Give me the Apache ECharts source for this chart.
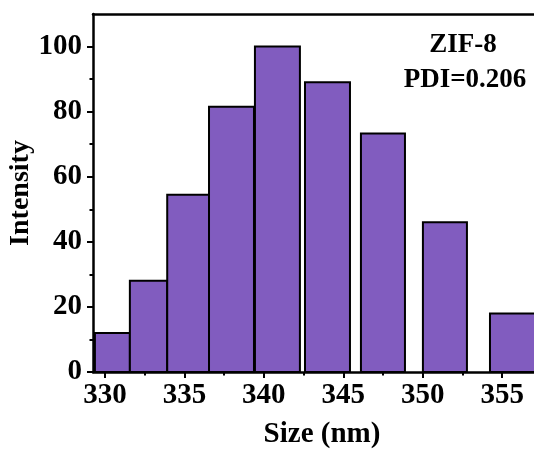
<!DOCTYPE html>
<html>
<head>
<meta charset="utf-8">
<script src="https://cdn.jsdelivr.net/npm/echarts@6/dist/echarts.min.js"></script>
<style>
html,body{margin:0;padding:0;background:#fff;}
#chart{width:534px;height:452px;}
</style>
</head>
<body>
<div id="chart"></div>
<script>
// Bin edges (nm) and intensities
const binStart  = [329.37, 331.57, 333.92, 336.55, 339.44, 342.59, 346.11, 350.01, 354.23];
const binEnd    = [331.57, 333.92, 336.55, 339.38, 342.27, 345.42, 348.88, 352.78, 357.20];
const intensity = [12, 28, 54.5, 81.5, 100, 89, 73.3, 46, 18];

const xMajorTicks = [330, 335, 340, 345, 350, 355];
const xMinorTicks = [332.5, 337.5, 342.5, 347.5, 352.5];
const yMajorTicks = [0, 20, 40, 60, 80, 100];
const yMinorTicks = [10, 30, 50, 70, 90];

const FONT = '"Liberation Serif", "Times New Roman", serif';
const barColor = '#815CBF';

const data = binStart.map((s, i) => [s, binEnd[i], intensity[i]]);

const chart = echarts.init(document.getElementById('chart'), null, {renderer: 'canvas'});

const xMin = 329.25, xMax = 357, yMin = 0, yMax = 110;

const baseX = {type: 'value', min: xMin, max: xMax, splitLine: {show: false}, gridIndex: 0};
const baseY = {type: 'value', min: yMin, max: yMax, splitLine: {show: false}, gridIndex: 0};

chart.setOption({
  animation: false,
  backgroundColor: '#fff',
  grid: {left: 93, right: 0, top: 14, bottom: 80, containLabel: false},
  xAxis: [
    Object.assign({}, baseX, {
      position: 'bottom',
      axisLine: {show: true, lineStyle: {color: '#000', width: 2.5}},
      axisTick: {show: true, inside: false, length: 6, lineStyle: {color: '#000', width: 2}, customValues: xMajorTicks},
      axisLabel: {show: true, customValues: xMajorTicks, margin: 9, color: '#000', fontFamily: FONT, fontWeight: 'bold', fontSize: 29}
    }),
    Object.assign({}, baseX, {
      position: 'bottom',
      axisLine: {show: false},
      axisTick: {show: true, inside: false, length: 3.5, lineStyle: {color: '#000', width: 2}, customValues: xMinorTicks},
      axisLabel: {show: false}
    }),
    Object.assign({}, baseX, {
      position: 'top',
      axisLine: {show: true, lineStyle: {color: '#000', width: 2.5}},
      axisTick: {show: false},
      axisLabel: {show: false}
    })
  ],
  yAxis: [
    Object.assign({}, baseY, {
      position: 'left',
      axisLine: {show: true, lineStyle: {color: '#000', width: 2.5}},
      axisTick: {show: true, inside: false, length: 6, lineStyle: {color: '#000', width: 2}, customValues: yMajorTicks},
      axisLabel: {show: true, customValues: yMajorTicks, margin: 11, color: '#000', fontFamily: FONT, fontWeight: 'bold', fontSize: 29}
    }),
    Object.assign({}, baseY, {
      position: 'left',
      axisLine: {show: false},
      axisTick: {show: true, inside: false, length: 3.5, lineStyle: {color: '#000', width: 2}, customValues: yMinorTicks},
      axisLabel: {show: false}
    })
  ],
  series: [{
    type: 'custom',
    xAxisIndex: 0,
    yAxisIndex: 0,
    z: 1,
    data: data,
    encode: {x: [0, 1], y: 2},
    renderItem: function (params, api) {
      const x0 = api.value(0), x1 = api.value(1), v = api.value(2);
      const pTop = api.coord([x0, v]);
      const pBot = api.coord([x1, 0]);
      const cs = params.coordSys;
      const rect = echarts.graphic.clipRectByRect(
        {x: pTop[0], y: pTop[1], width: pBot[0] - pTop[0], height: pBot[1] - pTop[1]},
        {x: cs.x, y: cs.y, width: cs.width + 20, height: cs.height}
      );
      return rect && {
        type: 'rect',
        shape: rect,
        style: {fill: barColor, stroke: '#000', lineWidth: 2}
      };
    }
  }],
  graphic: [
    {type: 'text', x: 322, y: 435, style: {text: 'Size (nm)', fill: '#000', font: 'bold 29px ' + FONT, textAlign: 'center', textVerticalAlign: 'middle'}},
    {type: 'text', x: 21, y: 193, rotation: Math.PI / 2, style: {text: 'Intensity', fill: '#000', font: 'bold 28px ' + FONT, textAlign: 'center', textVerticalAlign: 'middle'}},
    {type: 'text', x: 463, y: 45, style: {text: 'ZIF-8', fill: '#000', font: 'bold 27px ' + FONT, textAlign: 'center', textVerticalAlign: 'middle'}},
    {type: 'text', x: 465, y: 80, style: {text: 'PDI=0.206', fill: '#000', font: 'bold 27px ' + FONT, textAlign: 'center', textVerticalAlign: 'middle'}}
  ]
});
</script>
</body>
</html>
